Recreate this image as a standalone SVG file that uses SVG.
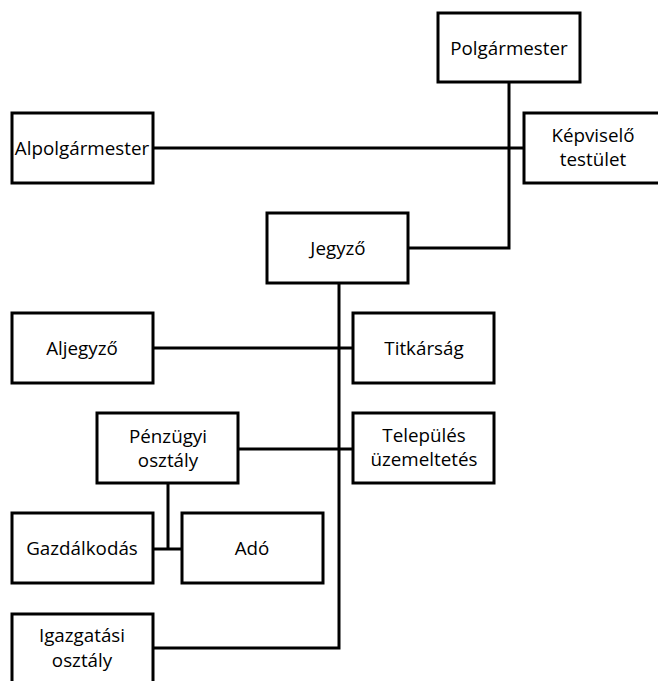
<svg xmlns="http://www.w3.org/2000/svg" width="658" height="681" viewBox="0 0 658 681">
<style>
.box{fill:#fff;stroke:#000;stroke-width:3}
.ln{fill:none;stroke:#000;stroke-width:3}
text{font-family:"Open Sans","Liberation Sans",sans-serif;font-size:18.8px;fill:#000;text-anchor:middle}
</style>
<rect width="658" height="681" fill="#fff"/>
<g id="connectors">
<path class="ln" d="M509 82V248H408"/>
<path class="ln" d="M153 148H524"/>
<path class="ln" d="M339 283V648H153"/>
<path class="ln" d="M153 348H353"/>
<path class="ln" d="M238 449H353"/>
<path class="ln" d="M168 483V549M153 549H182"/>
</g>
<g id="polgarmester"><rect class="box" x="438" y="13" width="142" height="69"/><text x="509" y="55">Polgármester</text></g>
<g id="alpolgarmester"><rect class="box" x="12" y="113" width="141" height="70"/><text x="82" y="155">Alpolgármester</text></g>
<g id="kepviselo"><rect class="box" x="524" y="113" width="140" height="70"/><text x="593" y="142">Képviselő</text><text x="593" y="166">testület</text></g>
<g id="jegyzo"><rect class="box" x="267" y="213" width="141" height="70"/><text x="338" y="255">Jegyző</text></g>
<g id="aljegyzo"><rect class="box" x="12" y="313" width="141" height="70"/><text x="82" y="355">Aljegyző</text></g>
<g id="titkarsag"><rect class="box" x="353" y="313" width="141" height="70"/><text x="424" y="355">Titkárság</text></g>
<g id="penzugyi"><rect class="box" x="97" y="413" width="141" height="70"/><text x="168" y="443">Pénzügyi</text><text x="168" y="467">osztály</text></g>
<g id="telepules"><rect class="box" x="353" y="413" width="141" height="70"/><text x="424" y="442">Település</text><text x="424" y="466">üzemeltetés</text></g>
<g id="gazdalkodas"><rect class="box" x="12" y="513" width="141" height="70"/><text x="82" y="555">Gazdálkodás</text></g>
<g id="ado"><rect class="box" x="182" y="513" width="141" height="70"/><text x="252" y="555">Adó</text></g>
<g id="igazgatasi"><rect class="box" x="12" y="614" width="141" height="80"/><text x="82" y="642">Igazgatási</text><text x="82" y="667">osztály</text></g>
</svg>
